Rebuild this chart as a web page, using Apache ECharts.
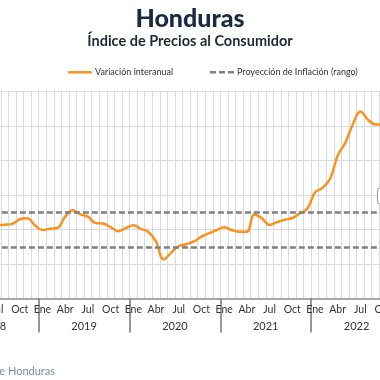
<!DOCTYPE html>
<html>
<head>
<meta charset="utf-8">
<script src="https://cdn.jsdelivr.net/npm/echarts@6/dist/echarts.min.js"></script>
<style>
html,body{margin:0;padding:0;width:380px;height:380px;overflow:hidden;background:#fff;}
#c{position:absolute;left:-60px;top:0;width:500px;height:380px;}
</style>
</head>
<body>
<div id="c"></div>
<script>
// ---- data ----
const years = ['2018', '2019', '2020', '2021', '2022'];
const monthNames = ['Ene','Feb','Mar','Abr','May','Jun','Jul','Ago','Sep','Oct','Nov','Dic'];
const v2018 = [null, null, null, null, null, null, 4.25, 4.28, 4.33, 4.60, 4.66, 4.25];
const v2019 = [3.97, 4.05, 4.10, 4.75, 5.12, 4.88, 4.75, 4.38, 4.35, 4.14, 3.90, 4.08];
const v2020 = [4.25, 4.04, 3.86, 3.30, 2.26, 2.66, 3.03, 3.15, 3.31, 3.59, 3.79, 3.96];
const v2021 = [4.14, 3.97, 3.88, 3.87, 4.87, 4.65, 4.27, 4.43, 4.57, 4.67, 4.94, 5.22];
const v2022 = [6.15, 6.42, 6.95, 8.28, 9.03, 10.10, 10.85, 10.38, 10.10, 10.10, null, null];
const rangeBounds = [3, 5];
const yTicks = {min: 0, max: 12, interval: 2};

const categories = [];
years.forEach(y => monthNames.forEach(m => categories.push(m + ' ' + y)));
const inflation = [].concat(v2018, v2019, v2020, v2021, v2022);

const FONT = 'Lato';
const chart = echarts.init(document.getElementById('c'));
chart.setOption({
  animation: false,
  backgroundColor: '#fff',
  title: [
    {text: 'Honduras', left: 'center', top: 1,
     textStyle: {fontFamily: FONT, fontSize: 25, fontWeight: 900, color: '#1b2a41'}},
    {text: 'Índice de Precios al Consumidor', left: 'center', top: 29,
     textStyle: {fontFamily: FONT, fontSize: 14.5, fontWeight: 'bold', color: '#1f2a36'}}
  ],
  grid: {left: 6.6, right: 38, top: 91.7, bottom: 81.5},
  xAxis: [
    {
      type: 'category', data: categories, boundaryGap: true, position: 'bottom',
      axisLine: {show: true, lineStyle: {color: '#a6a6a6', width: 2}},
      axisTick: {show: false},
      splitLine: {show: true, interval: 0, lineStyle: {color: '#dadada', width: 1}},
      axisLabel: {
        interval: (i) => i % 3 === 0,
        formatter: (v) => v.split(' ')[0],
        fontFamily: FONT, fontSize: 10.5, color: '#333', margin: 6
      }
    },
    {
      type: 'category', data: categories, boundaryGap: true, position: 'bottom',
      axisLine: {show: false},
      axisTick: {show: true, interval: (i) => i % 12 === 0, length: 34,
                 lineStyle: {color: '#777', width: 1.5}},
      splitLine: {show: false},
      axisLabel: {
        interval: (i) => i % 12 === 6,
        formatter: (v) => v.split(' ')[1],
        padding: [0, 7.6, 0, 0],
        fontFamily: FONT, fontSize: 11, color: '#333', margin: 22
      }
    }
  ],
  yAxis: {
    type: 'value', min: yTicks.min, max: yTicks.max, interval: yTicks.interval,
    axisLine: {show: false}, axisTick: {show: false}, axisLabel: {show: false},
    splitLine: {show: true, lineStyle: {color: '#dadada', width: 1}}
  },
  series: [
    {
      name: 'Proyección de Inflación (rango)', type: 'line', data: [],
      markLine: {
        silent: true, symbol: 'none', label: {show: false},
        lineStyle: {color: '#808080', width: 2.6, type: [6, 3]},
        data: rangeBounds.map(b => ({yAxis: b}))
      }
    },
    {
      name: 'Variación interanual', type: 'line', data: inflation,
      smooth: 0.4, showSymbol: false, symbol: 'none', connectNulls: false,
      lineStyle: {color: '#F7931E', width: 2.5}
    }
  ],
  graphic: [
    {type: 'line', shape: {x1: 128.3, y1: 72.3, x2: 151.7, y2: 72.3},
     style: {stroke: '#F7931E', lineWidth: 2.5}},
    {type: 'text', x: 155, y: 72.3,
     style: {text: 'Variación interanual', fontFamily: FONT, fontSize: 9, fill: '#333', textVerticalAlign: 'middle', verticalAlign: 'middle'}},
    {type: 'line', shape: {x1: 270, y1: 72.3, x2: 295, y2: 72.3},
     style: {stroke: '#808080', lineWidth: 2.6, lineDash: [6, 3]}},
    {type: 'text', x: 297, y: 72.3,
     style: {text: 'Proyección de Inflación (rango)', fontFamily: FONT, fontSize: 9, fill: '#333', textVerticalAlign: 'middle', verticalAlign: 'middle'}},
    {type: 'rect', shape: {x: 437.5, y: 188, width: 40, height: 16, r: 3},
     style: {fill: '#fff', stroke: '#9a9a9a', lineWidth: 1}, z: 10},
    {type: 'text', x: 115, y: 371,
     style: {text: 'Fuente: Banco Central de Honduras', fontFamily: FONT, fontSize: 11, fill: '#7d8ca3', align: 'right', textAlign: 'right', verticalAlign: 'middle', textVerticalAlign: 'middle'}}
  ]
});
</script>
</body>
</html>
